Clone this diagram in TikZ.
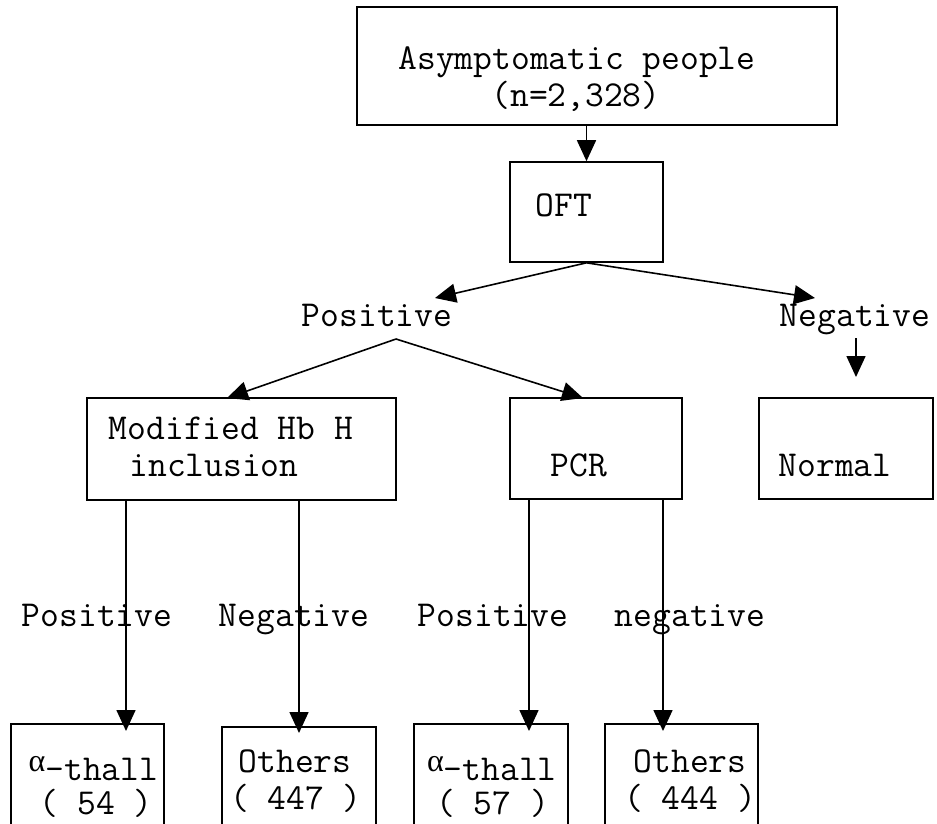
\documentclass[tikz,border=0pt]{standalone}
\usepackage{fontspec}
\newfontfamily\grkfont{Liberation Serif}
\usetikzlibrary{arrows.meta}
\begin{document}
\begin{tikzpicture}[x=1pt,y=-1pt,
  box/.style={draw, line width=1.6pt, inner sep=0pt},
  lbl/.style={inner sep=0pt, font=\fontsize{36.5}{40}\selectfont\ttfamily},
  arr/.style={line width=1.6pt, -{Triangle[length=21pt,width=19pt]}}]
\clip (0,0) rectangle (937,823);
\fill[white] (0,0) rectangle (937,823);

% boxes
\node[box, minimum width=480pt, minimum height=118pt] (top) at (597,66) {};
\node[box, minimum width=153pt, minimum height=100pt] (oft) at (586.5,212) {};
\node[box, minimum width=309pt, minimum height=102pt] (mod) at (241.5,449) {};
\node[box, minimum width=172pt, minimum height=101pt] (pcr) at (596,448.5) {};
\node[box, minimum width=174pt, minimum height=101pt] (norm) at (846,448.5) {};
\node[box, minimum width=153pt, minimum height=136pt] (a1) at (87.5,792) {};
\node[box, minimum width=154pt, minimum height=136pt] (o1) at (299,795) {};
\node[box, minimum width=154pt, minimum height=136pt] (a2) at (491,792) {};
\node[box, minimum width=153pt, minimum height=136pt] (o2) at (681.5,792) {};

% texts
\node[lbl, anchor=mid] (t1) at (577,67) {Asymptomatic people};
\node[lbl, anchor=mid] (t2) at (576,104) {(n=2,328)};
\node[lbl, anchor=mid] (t3) at (564,214) {OFT};
\node[lbl, anchor=mid] (pos) at (377,324) {Positive};
\node[lbl, anchor=mid] (neg) at (855,324) {Negative};
\node[lbl, anchor=mid] (t4) at (231,437) {Modified Hb H};
\node[lbl, anchor=mid] (t5) at (214,474) {inclusion};
\node[lbl, anchor=mid] (t6) at (579,474) {PCR};
\node[lbl, anchor=mid] (t7) at (835,474) {Normal};
\node[lbl, anchor=mid] (l1) at (97,624) {Positive};
\node[lbl, anchor=mid] (l2) at (294,624) {Negative};
\node[lbl, anchor=mid] (l3) at (493,624) {Positive};
\node[lbl, anchor=mid] (l4) at (690,624) {negative};
\node[lbl, anchor=base] (b1) at (93.5,771) {{\grkfont\fontsize{32}{36}\selectfont α}\raisebox{-9pt}{-thall}};
\node[lbl, anchor=mid] (b2) at (96,812) {( 54 )};
\node[lbl, anchor=mid] (b3) at (295,770) {Others};
\node[lbl, anchor=mid] (b4) at (296,807) {( 447 )};
\node[lbl, anchor=base] (b5) at (492,771) {{\grkfont\fontsize{32}{36}\selectfont α}\raisebox{-9pt}{-thall}};
\node[lbl, anchor=mid] (b6) at (492.5,812) {( 57 )};
\node[lbl, anchor=mid] (b7) at (690,770) {Others};
\node[lbl, anchor=mid] (b8) at (690,807) {( 444 )};

% connector points
\coordinate (posTip) at (435,298);
\coordinate (negTip) at (815,298);
\coordinate (apex) at (396,339);
\coordinate (modIn) at (227,398);
\coordinate (pcrIn) at (583,398);
\coordinate (negOut) at (856,338);
\coordinate (normIn) at (856,377);
\coordinate (m1) at (126,500);
\coordinate (m1e) at (126,731);
\coordinate (m2) at (299,500);
\coordinate (m2e) at (299,733);
\coordinate (p1) at (529,499);
\coordinate (p1e) at (529,731);
\coordinate (p2) at (663,499);
\coordinate (p2e) at (663,731);

% connectors
\draw[arr] (top.south -| oft.north) -- (oft.north);
\draw[arr] (oft.south) -- (posTip);
\draw[arr] (oft.south) -- (negTip);
\draw[arr] (apex) -- (modIn);
\draw[arr] (apex) -- (pcrIn);
\draw[arr] (negOut) -- (normIn);
\draw[arr] (m1) -- (m1e);
\draw[arr] (m2) -- (m2e);
\draw[arr] (p1) -- (p1e);
\draw[arr] (p2) -- (p2e);
\end{tikzpicture}
\end{document}
